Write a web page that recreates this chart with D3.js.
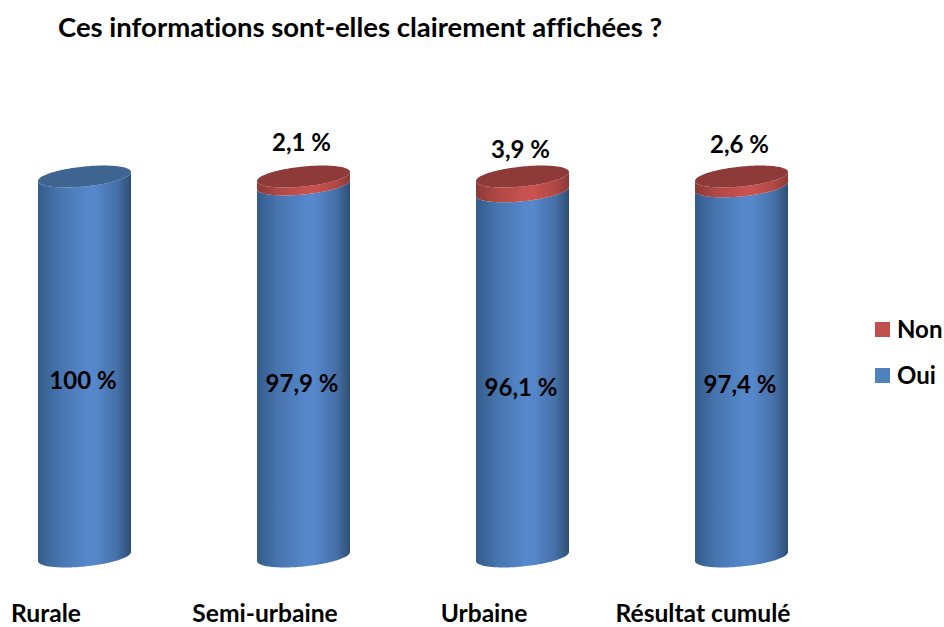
<!DOCTYPE html>
<html><head><meta charset="utf-8">
<script src="https://cdn.jsdelivr.net/npm/d3@7"></script>
<style>html,body{margin:0;background:#fff}svg{display:block}text{font-family:Lato,"Open Sans",sans-serif;font-weight:700;fill:#000;font-variant-ligatures:none}</style>
</head><body><svg id="c" width="944" height="627"></svg>
<script>
const title = "Ces informations sont-elles clairement affichées ?";
const categories = ["Rurale","Semi-urbaine","Urbaine","Résultat cumulé"];
const oui = [100,97.9,96.1,97.4];
const non = [0,2.1,3.9,2.6];
const ouiLabels = ["100 %","97,9 %","96,1 %","97,4 %"];
const nonLabels = ["","2,1 %","3,9 %","2,6 %"];
const legendItems = ["Non","Oui"];

const svg = d3.select("#c");
const x = d3.scaleBand().domain(categories).range([-25,851]);
const y = d3.scaleLinear().domain([0,100]).range([556.5,176.5]);
const RX = 46.5, RY = 10, SK = 4.5;
const cx = c => x(c)+x.bandwidth()/2;

const defs = svg.append("defs");
function grad(id, edgeL, mid, edgeR){
  const g = defs.append("linearGradient").attr("id",id).attr("x1",0).attr("x2",1).attr("y1",0).attr("y2",0);
  [[0,edgeL],[0.22,d3.interpolateRgb(edgeL,mid)(0.55)],[0.52,mid],[0.62,mid],[0.85,d3.interpolateRgb(edgeR,mid)(0.6)],[1,edgeR]]
    .forEach(([o,c])=>g.append("stop").attr("offset",o).attr("stop-color",c));
}
grad("blue","#345c8c","#5587ca","#2f4e74");
grad("red","#8c3a38","#c9524f","#8a3836");

const line = d3.line();
const ellPt = (mx,my,t) => [mx+RX*Math.cos(t), my+RY*Math.sin(t)-SK*Math.cos(t)];
const ts = d3.range(0,73);
function band(mx,y0,y1){ // y0 lower, y1 upper
  const pts=[];
  ts.forEach(i=>pts.push(ellPt(mx,y0,Math.PI*i/72)));
  ts.forEach(i=>pts.push(ellPt(mx,y1,Math.PI-Math.PI*i/72)));
  return line(pts)+"Z";
}
function cap(mx,my){
  return line(ts.concat(ts.map(i=>i+72)).map(i=>ellPt(mx,my,Math.PI*i/72)))+"Z";
}

categories.forEach((c,i)=>{
  const g = svg.append("g");
  const mx = cx(c);
  g.append("path").attr("d",band(mx,y(0),y(oui[i]))).attr("fill","url(#blue)");
  if(non[i]>0){
    g.append("path").attr("d",band(mx,y(oui[i]),y(oui[i]+non[i]))).attr("fill","url(#red)");
    g.append("path").attr("d",cap(mx,y(oui[i]+non[i]))).attr("fill","#8d3a39");
  } else {
    g.append("path").attr("d",cap(mx,y(oui[i]))).attr("fill","#3e6592");
  }
  g.append("text").attr("x",mx-1.5).attr("y",y(oui[i]/2)+22).attr("text-anchor","middle").attr("font-size",24).text(ouiLabels[i]);
  if(non[i]>0) g.append("text").attr("x",mx-2).attr("y",y(oui[i])-33).attr("text-anchor","middle").attr("font-size",24).text(nonLabels[i]);
  svg.append("text").attr("x",mx-38.5).attr("y",621.5).attr("text-anchor","middle").attr("font-size",24.6).text(c);
});

svg.append("text").attr("x",58).attr("y",37).attr("font-size",27.5).text(title);

const legY = d3.scalePoint().domain(legendItems).range([329.5,375.5]);
const legC = d3.scaleOrdinal().domain(legendItems).range(["#c0504d","#4f81bd"]);
legendItems.forEach(k=>{
  svg.append("rect").attr("x",875).attr("y",legY(k)-7.5).attr("width",15).attr("height",15).attr("fill",legC(k));
  svg.append("text").attr("x",897).attr("y",legY(k)+8).attr("font-size",24).text(k);
});
</script></body></html>
